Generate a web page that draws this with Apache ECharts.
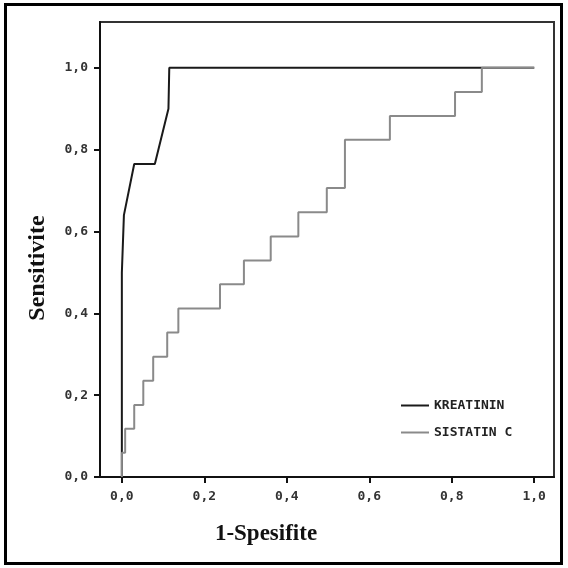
<!DOCTYPE html>
<html>
<head>
<meta charset="utf-8">
<script src="https://cdn.jsdelivr.net/npm/echarts@6/dist/echarts.min.js"></script>
<style>
  html, body { margin: 0; padding: 0; background: #fff; }
  #chart { width: 568px; height: 568px; }
</style>
</head>
<body>
<div id="chart"></div>
<script>
// ROC data (1-specificity, sensitivity)
var seriesNames = ['KREATININ', 'SISTATIN C'];
var kreatininFpr = [0, 0, 0.005, 0.03, 0.08, 0.113, 0.115, 1];
var kreatininTpr = [0, 0.5, 0.64, 0.765, 0.765, 0.9, 1, 1];
// step corners, drawn with step 'end' (right, then up)
var sistatinFpr = [0, 0, 0.008, 0.03, 0.052, 0.076, 0.11, 0.137, 0.238, 0.296, 0.361, 0.428, 0.497, 0.541, 0.65, 0.808, 0.873, 1];
var sistatinTpr = [0, 0.059, 0.118, 0.176, 0.235, 0.294, 0.353, 0.412, 0.471, 0.529, 0.588, 0.647, 0.706, 0.824, 0.882, 0.941, 1, 1];
var tickValues = [0, 0.2, 0.4, 0.6, 0.8, 1.0];

function zip(a, b) {
  var out = [];
  for (var i = 0; i < a.length; i++) out.push([a[i], b[i]]);
  return out;
}
function commaFmt(v) { return v.toFixed(1).replace('.', ','); }

var monoFont = 'DejaVu Sans Mono';
var serifFont = 'Liberation Serif';

var chart = echarts.init(document.getElementById('chart'), null, { renderer: 'canvas' });
chart.setOption({
  animation: false,
  backgroundColor: '#fff',
  grid: {
    left: 100, right: 14, top: 22, bottom: 91,
    show: true, borderColor: '#333', borderWidth: 2
  },
  legend: {
    data: seriesNames,
    orient: 'vertical',
    left: 396, top: 394,
    icon: 'rect',
    itemWidth: 28, itemHeight: 2,
    itemGap: 14,
    textStyle: { fontFamily: monoFont, fontSize: 13, fontWeight: 'bold', color: '#222' }
  },
  xAxis: {
    type: 'value',
    min: -0.053, max: 1.048,
    name: '1-Spesifite',
    nameLocation: 'middle',
    nameGap: 46,
    nameTextStyle: {
      fontFamily: serifFont, fontWeight: 'bold', fontSize: 23, color: '#111',
      padding: [0, 122, 0, 0]
    },
    axisLine: { onZero: false, lineStyle: { color: '#111', width: 2 } },
    axisTick: { customValues: tickValues, length: 6, lineStyle: { color: '#111', width: 2 } },
    axisLabel: { customValues: tickValues, formatter: commaFmt, margin: 13,
      fontFamily: monoFont, fontSize: 13, fontWeight: 'bold', color: '#333' },
    splitLine: { show: false }
  },
  yAxis: {
    type: 'value',
    min: 0, max: 1.112,
    name: 'Sensitivite',
    nameLocation: 'middle',
    nameGap: 50,
    nameTextStyle: {
      fontFamily: serifFont, fontWeight: 'bold', fontSize: 24, color: '#111',
      padding: [0, 37, 0, 0]
    },
    axisLine: { onZero: false, lineStyle: { color: '#111', width: 2 } },
    axisTick: { customValues: tickValues, length: 6, lineStyle: { color: '#111', width: 2 } },
    axisLabel: { customValues: tickValues, formatter: commaFmt, margin: 12,
      fontFamily: monoFont, fontSize: 13, fontWeight: 'bold', color: '#333' },
    splitLine: { show: false }
  },
  graphic: [{
    type: 'rect',
    shape: { x: 5.5, y: 4.5, width: 556, height: 559 },
    style: { fill: 'none', stroke: '#000', lineWidth: 3 },
    silent: true
  }],
  series: [
    {
      name: seriesNames[0],
      type: 'line',
      data: zip(kreatininFpr, kreatininTpr),
      showSymbol: false,
      lineStyle: { color: '#1a1a1a', width: 2 },
      itemStyle: { color: '#1a1a1a' }
    },
    {
      name: seriesNames[1],
      type: 'line',
      step: 'end',
      data: zip(sistatinFpr, sistatinTpr),
      showSymbol: false,
      lineStyle: { color: '#8a8a8a', width: 2 },
      itemStyle: { color: '#8a8a8a' }
    }
  ]
});
</script>
</body>
</html>
